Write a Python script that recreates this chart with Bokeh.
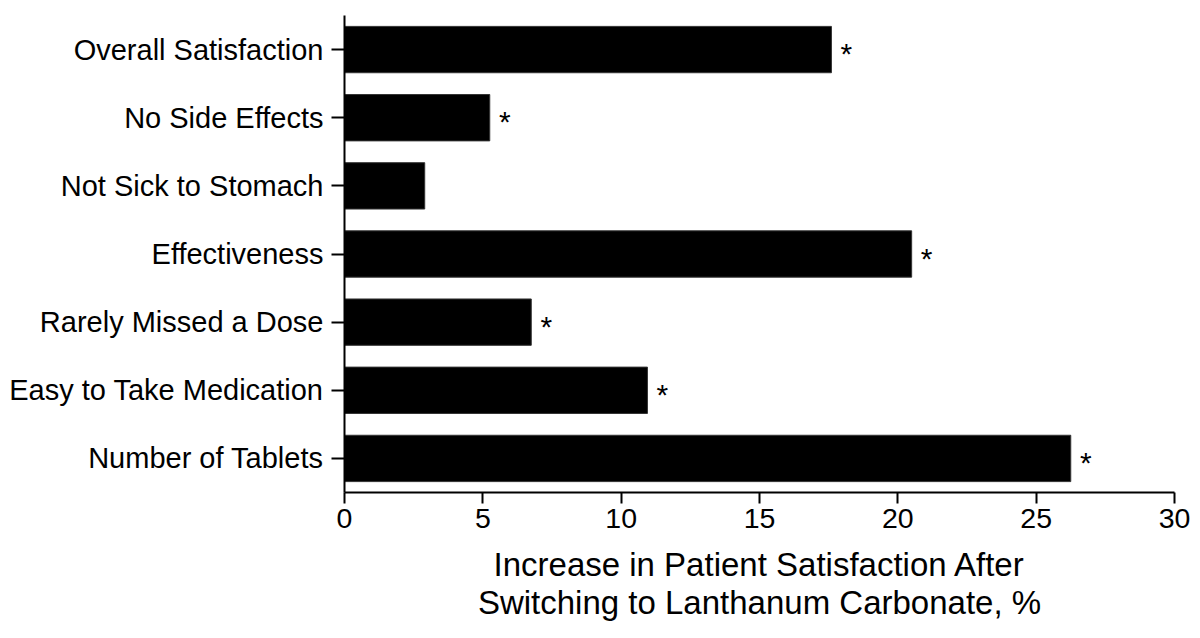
from bokeh.plotting import figure
from bokeh.models import FactorRange, Range1d, ColumnDataSource, FixedTicker
from bokeh.core.properties import value
from bokeh.embed import file_html
from bokeh.resources import INLINE

categories = ["Overall Satisfaction", "No Side Effects", "Not Sick to Stomach",
              "Effectiveness", "Rarely Missed a Dose", "Easy to Take Medication",
              "Number of Tablets"]
increase = [17.6, 5.25, 2.9, 20.5, 6.75, 10.95, 26.25]
significant = [True, True, False, True, True, True, True]
x_ticks = [0, 5, 10, 15, 20, 25, 30]

FONT = "Liberation Sans"

p = figure(width=1192, height=630, output_backend="svg", toolbar_location=None,
           y_range=FactorRange(factors=list(reversed(categories)), range_padding=0),
           x_range=Range1d(0, 30),
           min_border_left=344, min_border_right=18, min_border_top=15, min_border_bottom=138)
p.outline_line_color = None
p.xgrid.visible = False
p.ygrid.visible = False
p.background_fill_color = "white"

src = ColumnDataSource(dict(cat=categories, val=increase))
p.hbar(y="cat", left=0, right="val", height=0.68, source=src,
       fill_color="black", line_color="#333333", line_width=1)

sig_cats = [c for c, s in zip(categories, significant) if s]
sig_vals = [v for v, s in zip(increase, significant) if s]
ssrc = ColumnDataSource(dict(cat=sig_cats, val=sig_vals, t=["*"] * len(sig_cats)))
p.text(x="val", y="cat", text="t", source=ssrc, x_offset=15, y_offset=4,
       text_align="center", text_baseline="middle", text_font=value(FONT),
       text_font_size="30px", text_color="black")

xa = p.xaxis[0]
xa.ticker = FixedTicker(ticks=x_ticks)
xa.minor_tick_line_color = None
xa.major_tick_in = 0
xa.major_tick_out = 11
xa.major_tick_line_width = 2
xa.axis_line_width = 2
xa.major_label_text_font = FONT
xa.major_label_text_font_size = "28.5px"
xa.major_label_text_color = "black"
xa.major_label_standoff = 5
xa.axis_label = "Increase in Patient Satisfaction After\nSwitching to Lanthanum Carbonate, %"
xa.axis_label_text_font = FONT
xa.axis_label_text_font_size = "33px"
xa.axis_label_text_font_style = "normal"
xa.axis_label_text_color = "black"
xa.axis_label_standoff = 15
xa.axis_label_text_line_height = 1.05

ya = p.yaxis[0]
ya.major_tick_in = 0
ya.major_tick_out = 13
ya.major_tick_line_width = 2
ya.axis_line_width = 2
ya.major_label_text_font = FONT
ya.major_label_text_font_size = "29px"
ya.major_label_text_color = "black"
ya.major_label_standoff = 8

open("out.html", "w").write(file_html(p, INLINE))
